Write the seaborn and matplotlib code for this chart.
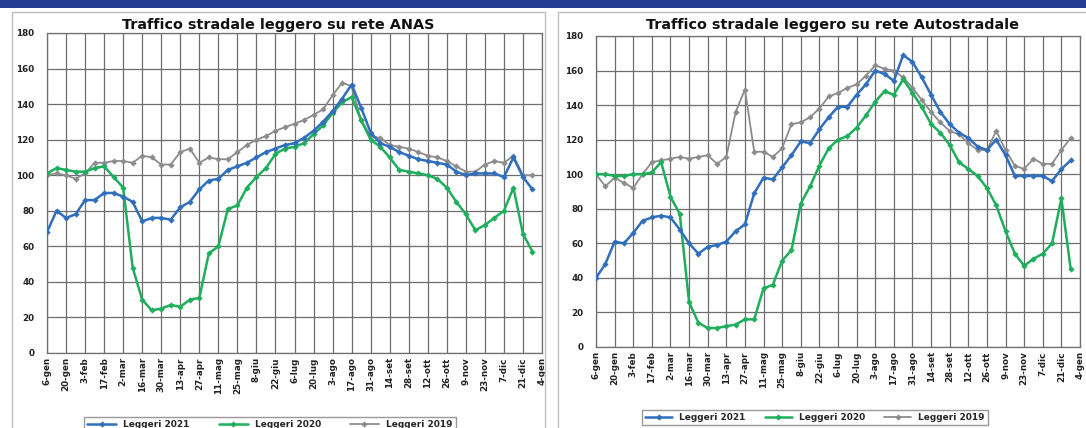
import pandas as pd
import seaborn as sns
import matplotlib.pyplot as plt
from matplotlib.patches import Rectangle
from matplotlib.lines import Line2D

# --- data (weekly index) ---
tick_labels = ['6-gen', '20-gen', '3-feb', '17-feb', '2-mar', '16-mar', '30-mar', '13-apr',
               '27-apr', '11-mag', '25-mag', '8-giu', '22-giu', '6-lug', '20-lug', '3-ago',
               '17-ago', '31-ago', '14-set', '28-set', '12-ott', '26-ott', '9-nov', '23-nov',
               '7-dic', '21-dic', '4-gen']
series_names = ['Leggeri 2021', 'Leggeri 2020', 'Leggeri 2019']

anas_2021 = [68, 80, 76, 78, 86, 86, 90, 90, 88, 85, 74, 76, 76, 75, 82, 85, 92, 97, 98, 103,
             105, 107, 110, 113, 115, 117, 118, 121, 125, 130, 136, 143, 151, 138, 124, 118,
             116, 113, 111, 109, 108, 107, 106, 102, 100, 101, 101, 101, 99, 110, 99, 92]
anas_2020 = [101, 104, 103, 102, 102, 104, 105, 99, 93, 48, 30, 24, 25, 27, 26, 30, 31, 56, 60,
             81, 83, 93, 99, 104, 112, 115, 116, 118, 123, 128, 135, 141, 144, 131, 120, 116,
             110, 103, 102, 101, 100, 98, 93, 85, 78, 69, 72, 76, 80, 93, 67, 57]
anas_2019 = [100, 101, 100, 98, 101, 107, 107, 108, 108, 107, 111, 110, 106, 106, 113, 115, 107,
             110, 109, 109, 113, 117, 120, 122, 125, 127, 129, 131, 134, 137, 145, 152, 150, 131,
             122, 121, 117, 116, 115, 113, 111, 110, 108, 105, 102, 102, 106, 108, 107, 111, 100, 100]

auto_2021 = [40, 48, 61, 60, 66, 73, 75, 76, 75, 68, 60, 54, 58, 59, 61, 67, 71, 89, 98, 97,
             104, 111, 119, 118, 126, 133, 139, 139, 146, 152, 160, 158, 154, 169, 165, 156,
             146, 136, 129, 124, 121, 116, 114, 120, 111, 99, 99, 99, 99, 96, 103, 108]
auto_2020 = [100, 100, 99, 99, 100, 100, 101, 107, 87, 77, 26, 14, 11, 11, 12, 13, 16, 16, 34,
             36, 50, 56, 83, 93, 105, 115, 120, 122, 127, 134, 142, 148, 146, 155, 147, 139,
             129, 124, 117, 107, 103, 99, 92, 82, 67, 54, 47, 51, 54, 60, 86, 45]
auto_2019 = [100, 93, 98, 95, 92, 100, 107, 108, 109, 110, 109, 110, 111, 106, 110, 136, 149,
             113, 113, 110, 115, 129, 130, 133, 138, 145, 147, 150, 152, 157, 163, 161, 160, 156,
             150, 143, 136, 130, 125, 123, 118, 114, 114, 125, 114, 105, 103, 109, 106, 106, 114, 121]

colors = {'Leggeri 2021': '#2f6fbd', 'Leggeri 2020': '#1fae5c', 'Leggeri 2019': '#8c8c8c'}


def long_df(s2021, s2020, s2019):
    rows = []
    for name, vals in zip(series_names, [s2021, s2020, s2019]):
        for i, v in enumerate(vals):
            rows.append((i, v, name))
    return pd.DataFrame(rows, columns=['settimana', 'indice', 'serie'])


def draw_panel(ax, df, title, title_x, title_y):
    # gray first, blue on top
    for name, z in [('Leggeri 2019', 2), ('Leggeri 2020', 3), ('Leggeri 2021', 4)]:
        sub = df[df['serie'] == name]
        lw = 1.3 if name == 'Leggeri 2019' else 1.8
        sns.lineplot(data=sub, x='settimana', y='indice', ax=ax, color=colors[name],
                     linewidth=lw, marker='D', markersize=3.2, markeredgewidth=0,
                     zorder=z, legend=False)
    ax.set_xlim(0, 52)
    ax.set_ylim(0, 180)
    ax.set_xticks(range(0, 53, 2))
    ax.set_xticklabels(tick_labels, rotation=90, fontsize=6.3, fontweight='bold', color='#222222')
    ax.set_yticks(range(0, 181, 20))
    ax.set_yticklabels([str(v) for v in range(0, 181, 20)], fontsize=6.3,
                       fontweight='bold', color='#222222')
    ax.tick_params(length=0, pad=3)
    ax.tick_params(axis='y', pad=9)
    ax.set_xlabel('')
    ax.set_ylabel('')
    ax.grid(True, color='#6e6e6e', linewidth=0.9)
    ax.set_axisbelow(True)
    for sp in ax.spines.values():
        sp.set_color('#6e6e6e')
        sp.set_linewidth(0.9)
    fig.text(title_x, title_y, title, ha='center', va='center', fontsize=10.4,
             fontweight='bold', color='#111111')


sns.set_theme(style="white")
plt.rcParams['font.family'] = ['DejaVu Sans']

W, H = 1086, 428
fig = plt.figure(figsize=(W / 100, H / 100), dpi=100)
fig.patch.set_facecolor('white')

# header strip and panel frames
fig.patches.append(Rectangle((0, 1 - 8 / H), 1, 8 / H, transform=fig.transFigure,
                             facecolor='#233d92', edgecolor='none', zorder=0))
fig.patches.append(Rectangle((12 / W, -0.01), 533 / W, (H - 12) / H + 0.01, transform=fig.transFigure,
                             facecolor='none', edgecolor='#c0c0c0', linewidth=1, zorder=0))
fig.patches.append(Rectangle((558 / W, -0.01), 540 / W, (H - 12) / H + 0.01, transform=fig.transFigure,
                             facecolor='none', edgecolor='#c0c0c0', linewidth=1, zorder=0))

ax1 = fig.add_axes([47 / W, 1 - 353 / H, 495 / W, 320 / H])
ax2 = fig.add_axes([596 / W, 1 - 347 / H, 484 / W, 311 / H])

draw_panel(ax1, long_df(anas_2021, anas_2020, anas_2019),
           'Traffico stradale leggero su rete ANAS', 278 / W, 1 - 25 / H)
draw_panel(ax2, long_df(auto_2021, auto_2020, auto_2019),
           'Traffico stradale leggero su rete Autostradale', 833 / W, 1 - 25 / H)

handles = [Line2D([], [], color=colors[n], linewidth=1.8 if n != 'Leggeri 2019' else 1.3,
                  marker='D', markersize=3.2, markeredgewidth=0) for n in series_names]
leg_font = {'size': 6.5, 'weight': 'bold'}
fig.legend(handles, series_names, loc='upper center', bbox_to_anchor=(270 / W, 1 - 412 / H),
           ncol=3, frameon=True, fancybox=False, edgecolor='#808080', prop=leg_font,
           handlelength=3.2, columnspacing=3.2, borderpad=0.35)
fig.legend(handles, series_names, loc='upper center', bbox_to_anchor=(815 / W, 1 - 405 / H),
           ncol=3, frameon=True, fancybox=False, edgecolor='#808080', prop=leg_font,
           handlelength=3.0, columnspacing=2.1, borderpad=0.35)

fig.savefig('out.png', dpi=100)
